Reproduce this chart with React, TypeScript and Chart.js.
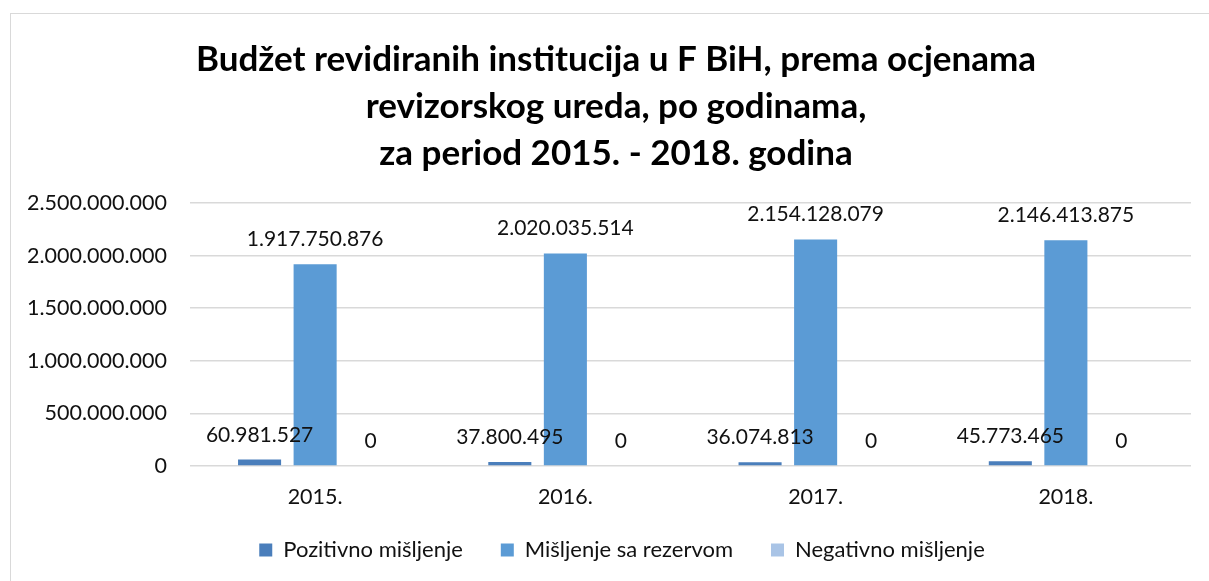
import { useEffect, useRef } from "react";
import { Chart, registerables } from "chart.js";

Chart.register(...registerables);

const FONT = "Lato, 'Noto Sans', sans-serif";

const titleLines = [
  "Budžet revidiranih institucija u F BiH, prema ocjenama",
  "revizorskog ureda, po godinama,",
  "za period 2015. - 2018. godina",
];
const categories = ["2015.", "2016.", "2017.", "2018."];
const seriesNames = ["Pozitivno mišljenje", "Mišljenje sa rezervom", "Negativno mišljenje"];
const pozitivno = [60981527, 37800495, 36074813, 45773465];
const saRezervom = [1917750876, 2020035514, 2154128079, 2146413875];
const negativno = [0, 0, 0, 0];
const seriesColors = ["#4a7ebb", "#5b9bd5", "#a9c4e6"];
const yMax = 2500000000;
const yStep = 500000000;

const fmt = (v: number) => String(Math.round(v)).replace(/\B(?=(\d{3})+(?!\d))/g, ".");

const valueLabels = {
  id: "valueLabels",
  afterDatasetsDraw(chart: any) {
    const ctx = chart.ctx;
    ctx.save();
    ctx.font = `21px ${FONT}`;
    ctx.fillStyle = "#111";
    ctx.textAlign = "center";
    ctx.textBaseline = "alphabetic";
    chart.data.datasets.forEach((ds: any, i: number) => {
      const meta = chart.getDatasetMeta(i);
      meta.data.forEach((el: any, j: number) => {
        ctx.fillText(fmt(ds.data[j] as number), el.x, el.y - 18);
      });
    });
    ctx.restore();
  },
};

const legendPlace = {
  id: "legendPlace",
  afterLayout(chart: any) {
    const lg = chart.legend;
    if (!lg) return;
    const h = lg.bottom - lg.top;
    lg.top = chart.chartArea.bottom + 35;
    lg.bottom = lg.top + h;
    lg.left += 6;
    lg.right += 6;
  },
};

export default function App() {
  const ref = useRef<HTMLCanvasElement | null>(null);
  useEffect(() => {
    if (!ref.current) return;
    const chart = new Chart(ref.current, {
      type: "bar",
      data: {
        labels: categories,
        datasets: [pozitivno, saRezervom, negativno].map((d, i) => ({
          label: seriesNames[i],
          data: d,
          backgroundColor: seriesColors[i],
          borderWidth: 0,
          categoryPercentage: 0.666,
          barPercentage: 0.775,
        })),
      },
      options: {
        animation: false,
        responsive: false,
        maintainAspectRatio: false,
        layout: { padding: 0 },
        plugins: {
          title: {
            display: true,
            text: titleLines,
            color: "#000",
            font: { family: FONT, size: 35, weight: "bold", lineHeight: 47 / 35 },
            padding: { top: 23.5, bottom: 25.5 },
          },
          legend: {
            position: "bottom",
            labels: {
              boxWidth: 13,
              boxHeight: 13,
              padding: 38,
              color: "#111",
              font: { family: FONT, size: 22 },
            },
          },
          tooltip: { enabled: false },
        },
        scales: {
          x: {
            grid: { display: false, drawTicks: false },
            border: { display: false },
            ticks: { color: "#111", font: { family: FONT, size: 21.5 }, padding: 18, maxRotation: 0 },
            afterFit: (s: any) => {
              s.height = 44;
            },
          },
          y: {
            min: 0,
            max: yMax,
            ticks: {
              stepSize: yStep,
              color: "#111",
              font: { family: FONT, size: 21.5 },
              padding: 23,
              callback: (v: any) => fmt(Number(v)),
            },
            grid: { color: "#d9d9d9", lineWidth: 1.5, drawTicks: false },
            border: { display: false },
            afterFit: (s: any) => {
              s.width = 180;
            },
          },
          yRight: {
            position: "right",
            display: true,
            grid: { display: false, drawTicks: false },
            border: { display: false },
            ticks: { display: false },
            afterFit: (s: any) => {
              s.width = 31;
            },
          },
        },
      },
      plugins: [valueLabels, legendPlace],
    } as any);
    return () => chart.destroy();
  }, []);

  return (
    <div
      style={{
        position: "fixed",
        left: 0,
        top: 0,
        width: 1209,
        height: 581,
        overflow: "hidden",
        background: "#fff",
      }}
    >
      <div
        style={{
          position: "absolute",
          left: 10,
          top: 13,
          width: 1212,
          height: 620,
          border: "1px solid #d9d9d9",
          boxSizing: "border-box",
        }}
      />
      <canvas
        ref={ref}
        width={1212}
        height={567}
        style={{ position: "absolute", left: 10, top: 13, width: 1212, height: 567 }}
      />
    </div>
  );
}
